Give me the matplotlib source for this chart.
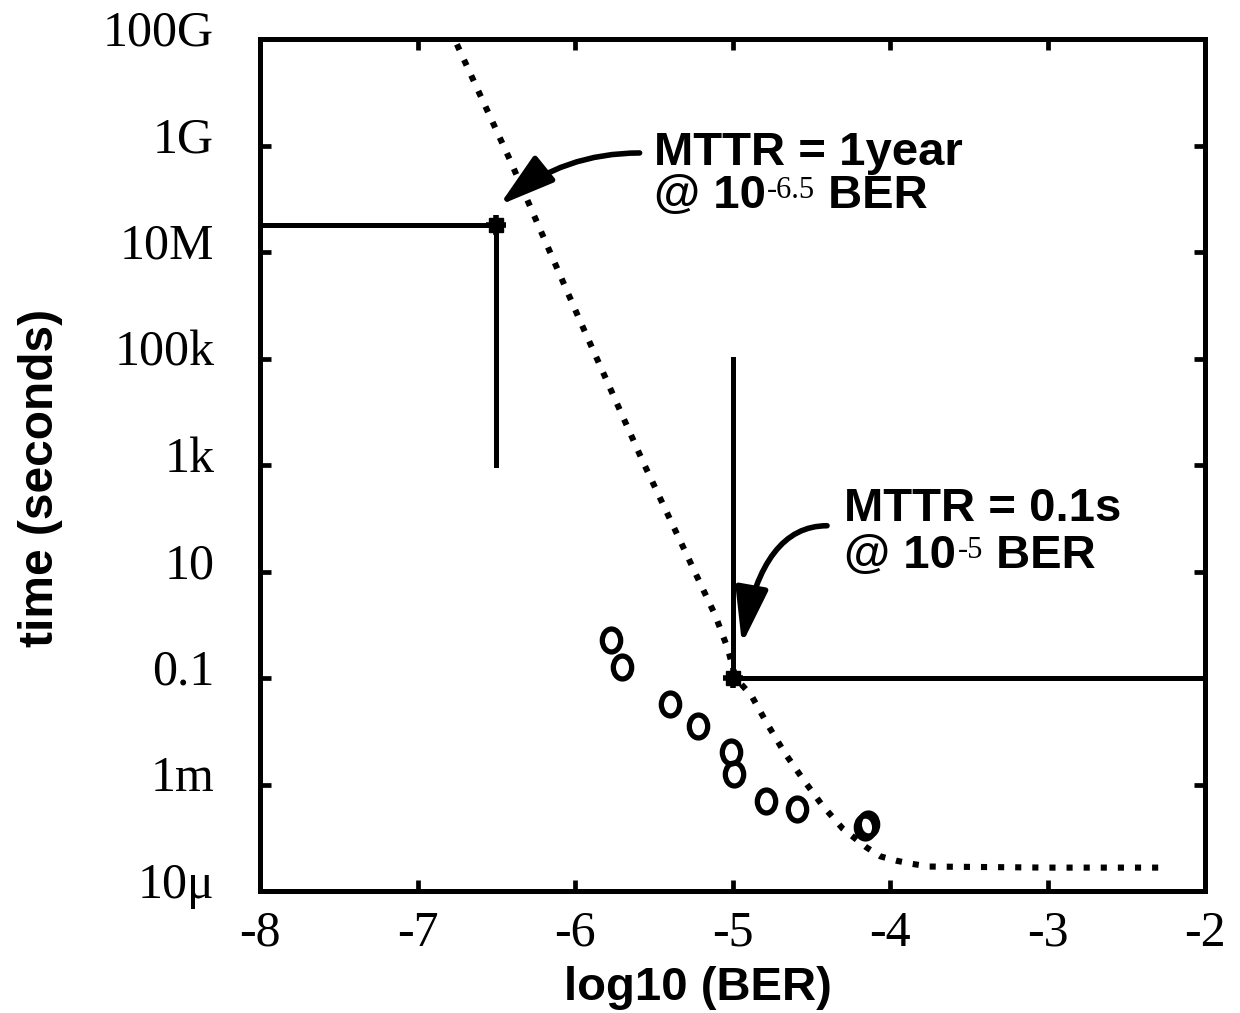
import numpy as np
import matplotlib
matplotlib.use("Agg")
import matplotlib.pyplot as plt
from matplotlib.path import Path
from matplotlib.transforms import Affine2D, ScaledTranslation

plt.rcParams['axes.unicode_minus'] = False

# model curve (dotted), log10(time)
curve_x = [-6.75, -6.41, -6.28, -5.97, -5.57, -5.11, -5.03, -4.98, -4.88, -4.78,
           -4.67, -4.55, -4.43, -4.30, -4.15, -4.06, -3.96, -3.86, -3.75, -3.0, -2.28]
curve_exp = [10.9, 8.71, 7.82, 5.72, 3.07, 0.18, -0.45, -1.0, -1.33, -1.86,
             -2.40, -2.91, -3.39, -3.83, -4.18, -4.35, -4.43, -4.49, -4.54, -4.56, -4.56]

# measured points (circles)
meas_x = [-5.77, -5.70, -5.40, -5.22, -5.01, -4.99, -4.79, -4.59, -4.16, -4.14]
meas_exp = [-0.29, -0.79, -1.48, -1.90, -2.38, -2.80, -3.30, -3.46, -3.80, -3.74]

# MTTR markers
year_x, year_t = -6.5, 3.15e7
year_low = 1e3
fast_x, fast_t = -5.0, 0.1
fast_high = 1e5

yticks = [1e-5, 1e-3, 1e-1, 1e1, 1e3, 1e5, 1e7, 1e9, 1e11]
ytick_labels = ['10\u03bc', '1m', '0.1', '10', '1k', '100k', '10M', '1G', '100G']
xticks = [-8, -7, -6, -5, -4, -3, -2]

fig = plt.figure(figsize=(12.4, 10.13), dpi=100)
ax = fig.add_axes([0.2097, 0.1204, 0.7621, 0.8411])

ax.plot(curve_x, 10.0 ** np.array(curve_exp), color='black', lw=4.4,
        linestyle=(0, (1, 1.8)))

ell = Path.unit_circle().transformed(Affine2D().scale(0.8, 1.0))
ax.plot(meas_x, 10.0 ** np.array(meas_exp), linestyle='none', marker=ell,
        markersize=16.5, markerfacecolor='none', markeredgecolor='black',
        markeredgewidth=3.8)

ax.plot([-8, year_x], [year_t, year_t], color='black', lw=3.6)
ax.plot([year_x, year_x], [year_low, year_t], color='black', lw=3.6)
ax.plot([fast_x, -2], [fast_t, fast_t], color='black', lw=3.6)
ax.plot([fast_x, fast_x], [fast_t, fast_high], color='black', lw=3.6)
ax.plot([year_x, fast_x], [year_t, fast_t], linestyle='none', marker='s',
        markersize=10.5, color='black')
ax.plot([year_x, fast_x], [year_t, fast_t], linestyle='none', marker='+',
        markersize=15, markeredgewidth=4, color='black')

ax.set_yscale('log')
ax.set_xlim(-8, -2)
ax.set_ylim(1e-5, 1e11)
ax.set_yticks(yticks)
ax.set_yticklabels(ytick_labels)
ax.set_xticks(xticks)
ax.set_xticklabels([str(v) for v in xticks])
ax.yaxis.set_minor_locator(matplotlib.ticker.NullLocator())

ax.tick_params(axis='both', which='major', direction='in', length=8, width=3.4,
               top=True, right=True)
ax.tick_params(axis='y', pad=33)
ax.tick_params(axis='x', pad=14)
for sp in ax.spines.values():
    sp.set_linewidth(3.6)

# y labels sit a little above their ticks in the original
up = ScaledTranslation(0, 8 / 72, fig.dpi_scale_trans)
for lab in ax.get_yticklabels():
    lab.set_fontfamily('Liberation Serif')
    lab.set_fontsize(36)
    lab.set_transform(lab.get_transform() + up)
for lab in ax.get_xticklabels():
    lab.set_fontfamily('Liberation Serif')
    lab.set_fontsize(36)

ax.set_xlabel('log10 (BER)', fontfamily='Liberation Sans', fontweight='bold',
              fontsize=34)
ax.xaxis.set_label_coords(0.4635, -0.088)
ax.set_ylabel('time (seconds)', fontfamily='Liberation Sans', fontweight='bold',
              fontsize=34.5)
ax.yaxis.set_label_coords(-0.209, 0.485)

bold = dict(fontfamily='Liberation Sans', fontweight='bold', fontsize=34,
            va='baseline', ha='left')
sup = dict(fontfamily='Liberation Serif', fontsize=22, va='baseline', ha='left',
           textcoords='offset points')


def label_block(x, y1, y2, line1, power):
    ax.text(x, 10 ** y1, line1, **bold)
    base = ax.text(x, 10 ** y2, '@ 10', **bold)
    s = ax.annotate(power, xy=(1, 10 ** y2), xycoords=(base, 'data'),
                    xytext=(1, 7.5), **sup)
    ax.annotate(' BER', xy=(1, 10 ** y2), xycoords=(s, 'data'),
                fontfamily='Liberation Sans', fontweight='bold', fontsize=34,
                va='baseline', ha='left')


# baselines (log10 of time)
label_block(-5.50, 8.64, 7.82, 'MTTR = 1year', '-6.5')
label_block(-4.29, 1.94, 1.06, 'MTTR = 0.1s', '-5')

arrow = dict(arrowstyle='-|>,head_length=1.7,head_width=0.5', color='black',
             lw=4, shrinkA=0, shrinkB=0, mutation_scale=20)
ax.annotate('', xy=(-6.48, 10 ** 7.88), xytext=(-5.59, 10 ** 8.86),
            arrowprops=dict(connectionstyle='angle3,angleA=0,angleB=39', **arrow))
ax.annotate('', xy=(-4.94, 10 ** -0.36), xytext=(-4.40, 10 ** 1.86),
            arrowprops=dict(connectionstyle='angle3,angleA=0,angleB=80', **arrow))

fig.savefig('out.png', dpi=100)
